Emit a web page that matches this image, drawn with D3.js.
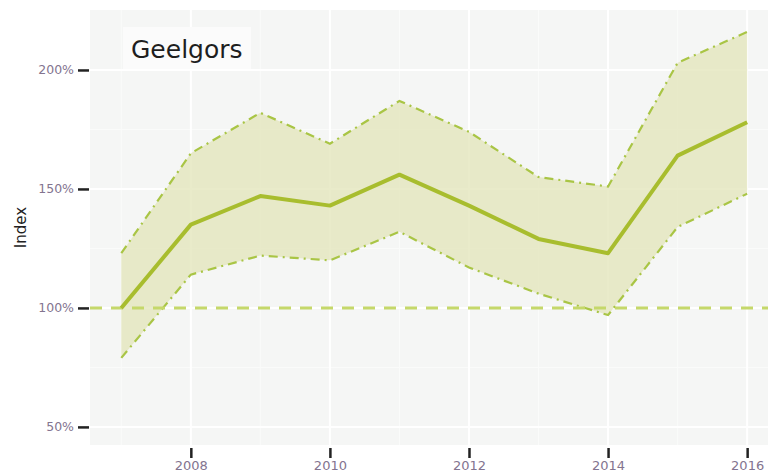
<!DOCTYPE html>
<html><head><meta charset="utf-8">
<script src="https://cdn.jsdelivr.net/npm/d3@7"></script>
<style>body{margin:0;background:#fff;}svg{display:block;}</style>
</head><body>
<script>
const years = [2007,2008,2009,2010,2011,2012,2013,2014,2015,2016];
const index = [100,135,147,143,156,143,129,123,164,178];
const upper = [123,165,182,169,187,174,155,151,203,216];
const lower = [79,114,122,120,132,117,106,97,134,148];
const xTicks = [2008,2010,2012,2014,2016];
const yTicks = [50,100,150,200];
const yMinor = [75,125,175];
const xMinor = [2007,2009,2011,2013,2015];
const title = "Geelgors";

const W=768,H=475;
const svg=d3.select("body").append("svg").attr("width",W).attr("height",H);
const pl=90, pr=768, pt=10, pb=445;
const x=d3.scaleLinear().domain([2006.55,2016.3]).range([pl,pr]);
const y=d3.scaleLinear().domain([42.4,225.2]).range([pb,pt]);

svg.append("rect").attr("x",pl).attr("y",pt).attr("width",pr-pl).attr("height",pb-pt).attr("fill","#f5f6f5");
const g=svg.append("g");
g.selectAll(".ym").data(yMinor).join("line").attr("x1",pl).attr("x2",pr).attr("y1",d=>y(d)).attr("y2",d=>y(d)).attr("stroke","#fafbfa").attr("stroke-width",1);
g.selectAll(".xm").data(xMinor).join("line").attr("y1",pt).attr("y2",pb).attr("x1",d=>x(d)).attr("x2",d=>x(d)).attr("stroke","#fafbfa").attr("stroke-width",1);
g.selectAll(".yM").data(yTicks).join("line").attr("x1",pl).attr("x2",pr).attr("y1",d=>y(d)).attr("y2",d=>y(d)).attr("stroke","#ffffff").attr("stroke-width",2);
g.selectAll(".xM").data(xTicks).join("line").attr("y1",pt).attr("y2",pb).attr("x1",d=>x(d)).attr("x2",d=>x(d)).attr("stroke","#ffffff").attr("stroke-width",2);

const data=years.map((yr,i)=>({yr,v:index[i],u:upper[i],l:lower[i]}));
svg.append("path").datum(data).attr("d",d3.area().x(d=>x(d.yr)).y0(d=>y(d.l)).y1(d=>y(d.u))).attr("fill","#e3e6bd").attr("fill-opacity",0.8);
svg.append("path").datum(data).attr("d",d3.line().x(d=>x(d.yr)).y(d=>y(d.u))).attr("fill","none").attr("stroke","#a9c545").attr("stroke-width",2.2).attr("stroke-dasharray","9,5,2,5");
svg.append("path").datum(data).attr("d",d3.line().x(d=>x(d.yr)).y(d=>y(d.l))).attr("fill","none").attr("stroke","#a9c545").attr("stroke-width",2.2).attr("stroke-dasharray","9,5,2,5");
svg.append("line").attr("x1",pl).attr("x2",pr).attr("y1",y(100)).attr("y2",y(100)).attr("stroke","#c5d86a").attr("stroke-width",3).attr("stroke-dasharray","12,9");
svg.append("path").datum(data).attr("d",d3.line().x(d=>x(d.yr)).y(d=>y(d.v))).attr("fill","none").attr("stroke","#a8bd2e").attr("stroke-width",4).attr("stroke-linejoin","round");

// axes
const ya=svg.append("g").attr("transform",`translate(${pl},0)`).call(d3.axisLeft(y).tickValues(yTicks).tickFormat(d=>d+"%").tickSize(11).tickPadding(4));
ya.select(".domain").remove();
ya.selectAll("line").attr("stroke","#222").attr("stroke-width",2.5).attr("transform","translate(-1,0)");
ya.selectAll("text").attr("fill","#83748f").style("font-family","DejaVu Sans, sans-serif").style("font-size","12.5px").attr("x",-16);
const xa=svg.append("g").attr("transform",`translate(0,${pb})`).call(d3.axisBottom(x).tickValues(xTicks).tickFormat(d3.format("d")).tickSize(10).tickPadding(3));
xa.select(".domain").remove();
xa.selectAll("line").attr("stroke","#222").attr("stroke-width",2.5).attr("transform","translate(0,3)");
xa.selectAll("text").attr("fill","#83748f").style("font-family","DejaVu Sans, sans-serif").style("font-size","13px").attr("y",16);

svg.append("text").attr("transform",`translate(26,${(pt+pb)/2}) rotate(-90)`).attr("text-anchor","middle").style("font-family","DejaVu Sans, sans-serif").style("font-size","15px").attr("fill","#222").text("Index");

svg.append("rect").attr("x",123).attr("y",27).attr("width",128).attr("height",42).attr("fill","#fbfbfb");
svg.append("text").attr("x",131).attr("y",58).style("font-family","DejaVu Sans, sans-serif").style("font-size","25px").attr("fill","#1e1e1e").text(title);
</script>
</body></html>
